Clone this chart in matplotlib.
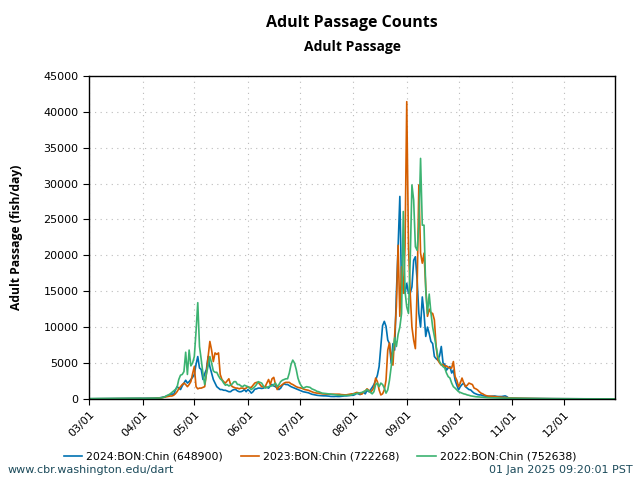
import matplotlib
matplotlib.use("Agg")
import matplotlib.pyplot as plt
import matplotlib.dates as mdates
from datetime import datetime, timedelta

# ---- data (daily, Mar 1 .. Dec 30) ----
labels = ["2024:BON:Chin (648900)", "2023:BON:Chin (722268)", "2022:BON:Chin (752638)"]
colors = ["#0072B2", "#D55E00", "#3CB371"]

b_mar = [10,15,12,20,18,22,25,20,28,30,26,32,35,30,38,40,36,42,45,40,48,50,46,52,55,50,58,60,56,62,65]
b_apr = [70,75,80,85,90,95,100,110,120,130,150,200,250,300,400,500,600,700,600,1200,1700,1500,1300,1800,2200,2600,2200,2400,2700,3000]
b_may = [3400,4800,5900,4300,4100,2700,3500,4100,5900,4500,3600,2700,2200,1700,1500,1300,1300,1200,1200,1100,1000,1000,1200,1300,1300,1100,1000,1000,1100,1300,1000]
b_jun = [1300,1100,800,1000,1350,1400,1500,1500,1450,1500,1700,1600,1500,1800,2000,1800,1700,1500,1300,1500,1900,2100,2000,2000,1850,1700,1600,1500,1400,1300]
b_jul = [1200,1100,1000,950,900,850,750,650,600,550,500,470,450,430,420,420,400,380,340,330,330,350,330,330,350,380,420,420,450,480,500]
b_aug = [500,600,800,700,600,800,900,700,1200,1000,1250,1600,2000,2600,3300,4500,7300,10200,10800,10100,8200,7700,5000,7700,6800,14700,21200,28200,15200,16600,14700]
b_sep = [16100,14700,14700,15600,19300,19800,16600,11900,10000,14200,11900,8700,10000,9100,8000,7700,5900,5600,5400,6000,7300,5000,4800,4000,4300,4500,3600,4000,2600,1900]
b_oct = [1250,1700,2000,2200,1700,1500,1300,1250,1000,800,700,600,550,550,450,400,350,330,350,380,400,400,350,330,330,330,380,420,300,100,100]
b_nov = [90,85,80,80,75,70,70,65,60,60,55,55,50,50,45,45,40,40,40,35,35,30,30,30,30,25,25,25,20,20]
b_dec = [20,20,18,18,15,15,15,12,12,12,10,10,10,10,8,8,8,8,6,6,6,5,5,5,5,4,4,4,3,3]

o_mar = [5,8,6,10,12,10,15,14,18,16,20,22,20,25,24,28,26,30,28,32,30,35,34,38,36,40,38,42,40,45,44]
o_apr = [30,40,40,50,50,60,60,70,80,100,120,150,200,250,300,350,400,400,500,700,1000,1400,1700,2000,2200,2000,1700,2000,2400,3500]
o_may = [4500,1700,1400,1500,1500,1600,1700,3500,5900,8000,6800,5200,6400,6200,6400,3400,2700,2400,2200,2500,2800,2000,1700,1600,1500,1500,1400,1500,1500,1400,1500]
o_jun = [1700,1600,1600,1900,2200,2300,2300,2000,1700,1700,1700,2200,2700,2000,2800,3000,2000,1300,1700,1800,2000,2200,2300,2300,2300,2100,2000,1850,1700,1600]
o_jul = [1550,1500,1400,1300,1250,1200,1100,1000,900,850,800,800,750,700,680,650,650,650,650,650,640,660,650,650,600,580,560,560,600,650,700]
o_aug = [700,800,900,850,700,650,1000,1100,1400,1200,900,1200,1600,2900,2400,1250,550,700,1250,2600,6800,7800,5700,4700,8700,12900,21400,11500,18400,14700,21200]
o_sep = [41400,21200,14700,10000,8200,7000,15200,29800,20300,18900,20300,15600,11500,12500,12000,11900,11000,7300,5400,5000,4700,4800,4500,4600,4400,4300,4300,5200,3100,2600]
o_oct = [1700,2200,2900,2200,1700,1900,2200,2100,2000,1500,1400,1250,1000,800,700,550,450,400,380,350,330,330,300,260,250,230,200,200,180,150,120]
o_nov = [110,100,95,90,85,80,75,70,65,60,55,50,50,45,45,40,40,35,35,30,30,28,26,24,22,20,18,16,15,14]
o_dec = [12,12,10,10,10,9,9,8,8,7,7,6,6,5,5,5,4,4,4,3,3,3,3,2,2,2,2,1,1,1]

g_mar = [40,45,50,48,52,55,50,58,60,56,62,60,65,63,68,66,70,68,72,70,75,72,78,76,80,78,82,80,85,83,88]
g_apr = [60,70,70,80,80,90,100,100,100,110,120,150,200,300,450,550,700,900,1100,1300,1600,2700,3300,3400,3800,6500,3400,6800,4600,5000]
g_may = [5900,9400,13400,7300,5500,3500,2000,3500,4600,5900,5000,3900,3700,3700,3200,2800,2600,2200,1900,2000,1800,1900,2100,2400,2400,2000,2000,1800,1700,1900,1800]
g_jun = [1700,1500,1300,1500,1700,2000,2400,2300,2200,1800,1500,1600,1700,1800,1800,2000,2200,1700,2000,2400,2600,2700,2800,2800,3600,4800,5400,5000,4100,2900]
g_jul = [2200,1800,1500,1600,1700,1650,1600,1400,1300,1200,1050,1000,900,800,780,750,720,700,650,620,600,560,520,500,480,470,480,490,500,500,550]
g_aug = [650,700,750,800,850,900,1000,1100,1300,1100,900,700,1000,2000,2200,1700,2200,2000,1500,800,1250,2600,4500,6600,8500,7300,9000,10000,11900,26100,15000]
g_sep = [12800,11900,19300,29800,27700,21200,20700,24000,33500,24200,24200,15200,11900,14600,12000,10000,8700,7300,6000,5200,4800,4500,4300,3600,3100,2900,2200,1700,1500,1250]
g_oct = [1000,900,800,700,650,550,500,420,380,330,300,280,260,240,220,200,180,170,160,150,140,130,125,120,115,110,105,100,95,90,85]
g_nov = [80,78,75,72,70,68,65,62,60,58,55,52,50,48,46,44,42,40,38,36,34,32,30,28,26,24,22,20,18,16]
g_dec = [15,14,13,12,11,10,10,9,9,8,8,7,7,6,6,5,5,5,4,4,4,3,3,3,2,2,2,2,1,1]

blue = b_mar + b_apr + b_may + b_jun + b_jul + b_aug + b_sep + b_oct + b_nov + b_dec
orange = o_mar + o_apr + o_may + o_jun + o_jul + o_aug + o_sep + o_oct + o_nov + o_dec
green = g_mar + g_apr + g_may + g_jun + g_jul + g_aug + g_sep + g_oct + g_nov + g_dec
series = [blue, orange, green]

base = datetime(2023, 3, 1)
dates = [base + timedelta(days=i) for i in range(len(blue))]

fig = plt.figure(figsize=(6.4, 4.8), dpi=100)
ax = fig.add_axes([0.139, 0.169, 0.822, 0.673])

for vals, c, lab in zip(series, colors, labels):
    ax.plot(dates, vals, color=c, lw=1.2, label=lab)

ax.set_ylim(0, 45000)
ax.set_yticks(range(0, 45001, 5000))
ax.set_xlim(base, base + timedelta(days=304.6))
ax.xaxis.set_major_locator(mdates.MonthLocator(bymonthday=1))
ax.xaxis.set_major_formatter(mdates.DateFormatter('%m/%d'))
ax.tick_params(axis='both', labelsize=8, direction='out', length=4, width=0.8)
for lab in ax.get_xticklabels():
    lab.set_rotation(45)
    lab.set_ha('right')
    lab.set_rotation_mode('anchor')
ax.grid(True, linestyle=(0, (1, 4)), color='#bbbbbb', lw=0.8)
for s in ax.spines.values():
    s.set_linewidth(1.0)

ax.set_ylabel('Adult Passage (fish/day)', fontsize=8.7, fontweight='bold', family='Open Sans')
ax.yaxis.set_label_coords(-0.126, 0.5)

fig.text(0.55, 0.952, 'Adult Passage Counts', ha='center', va='center', fontsize=11.5, fontweight='bold', family='Open Sans')
fig.text(0.55, 0.902, 'Adult Passage', ha='center', va='center', fontsize=10, fontweight='bold', family='Open Sans')

fig.legend(loc='center', bbox_to_anchor=(0.5, 0.048), ncol=3, frameon=False, fontsize=7.8,
           handlelength=1.7, columnspacing=1.6, handletextpad=0.4)

fig.text(0.012, 0.02, 'www.cbr.washington.edu/dart', fontsize=8, color='#1b4a5a', va='center')
fig.text(0.988, 0.02, '01 Jan 2025 09:20:01 PST', fontsize=8, color='#1b4a5a', va='center', ha='right')

fig.savefig('out.png', dpi=100)
